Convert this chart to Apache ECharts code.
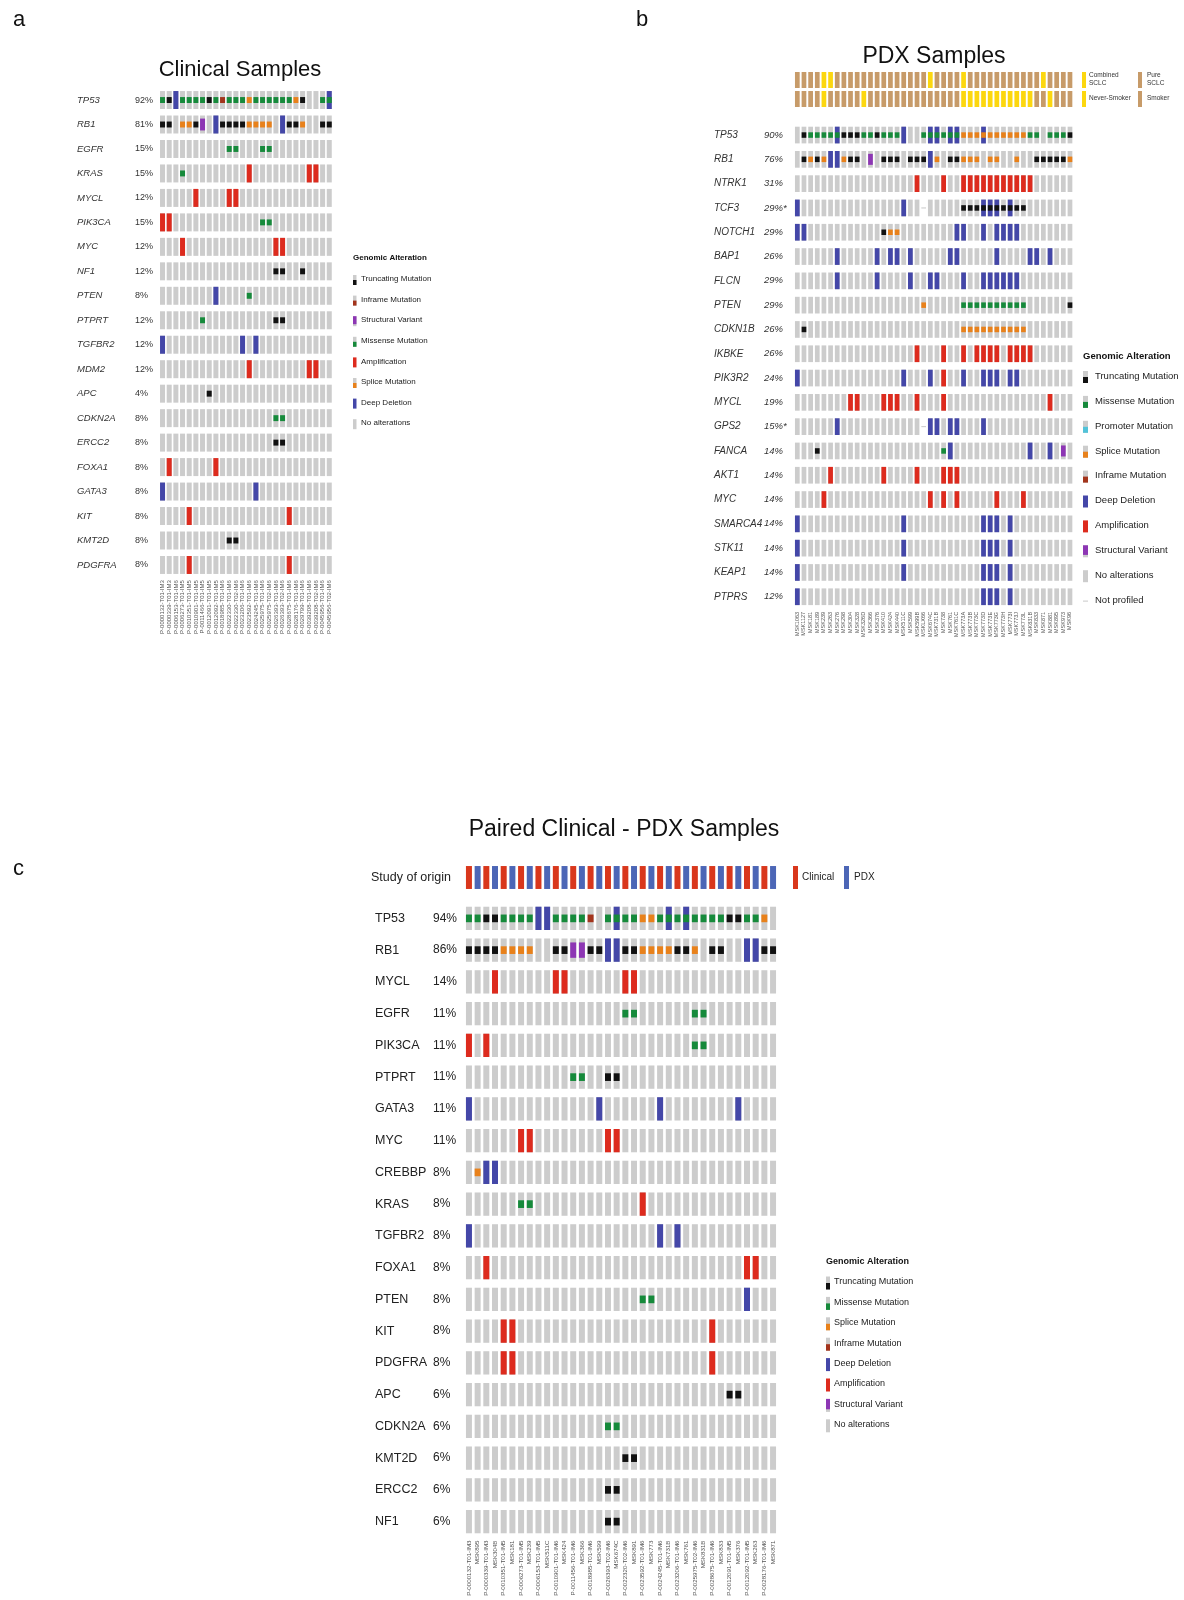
<!DOCTYPE html>
<html>
<head>
<meta charset="utf-8">
<script src="https://cdn.jsdelivr.net/npm/echarts@6/dist/echarts.min.js"></script>
<style>
  html, body { margin: 0; padding: 0; background: #fff; }
  #chart { width: 1184px; height: 1600px; }
</style>
</head>
<body>
<div id="chart"></div>
<script>
// ---- alteration codes ----
// . none, T truncating, M missense, S splice, I inframe, P promoter,
// D deep deletion, A amplification, V structural variant, - not profiled
// x = D + missense, y = D + splice, z = D + truncating
var TYPE_KEYS = ['T', 'M', 'S', 'I', 'P', 'D', 'A', 'V'];
var COMBO = { x: 'DM', y: 'DS', z: 'DT' };

// ---- panel a : clinical samples ----
var clinSamples = ['P-0000132-T01-IM3', 'P-0000339-T01-IM3', 'P-0006153-T01-IM6', 'P-0006273-T01-IM5',
    'P-0010351-T01-IM5', 'P-0010901-T01-IM5', 'P-0011466-T01-IM5', 'P-0012091-T01-IM5', 'P-0012092-T01-IM5',
    'P-0018985-T01-IM6', 'P-0022330-T01-IM6', 'P-0022330-T02-IM6', 'P-0023206-T01-IM6', 'P-0023592-T01-IM6',
    'P-0024245-T01-IM6', 'P-0025975-T01-IM6', 'P-0025975-T02-IM6', 'P-0026393-T01-IM6', 'P-0026393-T02-IM6',
    'P-0028675-T01-IM6', 'P-0028176-T01-IM6', 'P-0029799-T01-IM6', 'P-0039208-T01-IM6', 'P-0039208-T02-IM6',
    'P-0045956-T01-IM6', 'P-0045956-T02-IM6'];
var clinGenes = ['TP53', 'RB1', 'EGFR', 'KRAS', 'MYCL', 'PIK3CA', 'MYC', 'NF1', 'PTEN', 'PTPRT',
    'TGFBR2', 'MDM2', 'APC', 'CDKN2A', 'ERCC2', 'FOXA1', 'GATA3', 'KIT', 'KMT2D', 'PDGFRA'];
var clinPct = ['92%', '81%', '15%', '15%', '12%', '15%', '12%', '12%', '8%', '12%',
    '12%', '12%', '4%', '8%', '8%', '8%', '8%', '8%', '8%', '8%'];
var clinRows = [
    'MTDMM MMTMI MMMSM MMMMM ST..M x',
    'TT.SS TV.DT TTTSS SS.DT TS..T T',
    '..... ..... MM... MM... ..... .',
    '...M. ..... ...A. ..... ..AA. .',
    '..... A.... AA... ..... ..... .',
    'AA... ..... ..... MM... ..... .',
    '...A. ..... ..... ..AA. ..... .',
    '..... ..... ..... ..TT. .T... .',
    '..... ...D. ...M. ..... ..... .',
    '..... .M... ..... ..TT. ..... .',
    'D.... ..... ..D.D ..... ..... .',
    '..... ..... ...A. ..... ..AA. .',
    '..... ..T.. ..... ..... ..... .',
    '..... ..... ..... ..MM. ..... .',
    '..... ..... ..... ..TT. ..... .',
    '.A... ...A. ..... ..... ..... .',
    'D.... ..... ....D ..... ..... .',
    '....A ..... ..... ....A ..... .',
    '..... ..... TT... ..... ..... .',
    '....A ..... ..... ....A ..... .'
];

// ---- panel b : PDX samples ----
var pdxSamples = ['MSK1063', 'MSK1127', 'MSK181', 'MSK189', 'MSK239', 'MSK263', 'MSK276', 'MSK298', 'MSK304',
    'MSK328', 'MSK326D', 'MSK366', 'MSK376', 'MSK410', 'MSK424', 'MSK440', 'MSK511C', 'MSK599', 'MSK599B',
    'MSKLX66', 'MSK674C', 'MSK731B', 'MSK738', 'MSK761', 'MSK761C', 'MSK773A', 'MSK773B', 'MSK773C', 'MSK773D',
    'MSK773E', 'MSK773G', 'MSK773H', 'MSK773I', 'MSK773J', 'MSK773L', 'MSK831B', 'MSK833', 'MSK871', 'MSK881',
    'MSK895', 'MSK973', 'MSK96'];
var pdxGenes = ['TP53', 'RB1', 'NTRK1', 'TCF3', 'NOTCH1', 'BAP1', 'FLCN', 'PTEN', 'CDKN1B', 'IKBKE',
    'PIK3R2', 'MYCL', 'GPS2', 'FANCA', 'AKT1', 'MYC', 'SMARCA4', 'STK11', 'KEAP1', 'PTPRS'];
var pdxPct = ['90%', '76%', '31%', '29%*', '29%', '26%', '29%', '29%', '26%', '26%',
    '24%', '19%', '15%*', '14%', '14%', '14%', '14%', '14%', '14%', '12%'];
var pdxRows = [
    '.TMMM MxTTT MMTMM MD..M xxMxx SSSyS SSSSS MM.MM MT',
    '.TSTS DDSTT .V.TT T.TTT DS.TT SSS.S S..S. .TTTT TS',
    '..... ..... ..... ...A. ..A.. AAAAA AAAAA A.... ..',
    'D.... ..... ..... .D..- ..... TTTzz zTzTT ..... ..',
    'DD... ..... ...TS S.... ....D D..D. DDDD. ..... ..',
    '..... .D... ..D.D D.D.. ...DD ..... D.... DD.D. ..',
    '..... .D... ..D.. ..D.. DD... D..DD DDDD. ..... ..',
    '..... ..... ..... ....S ..... MMMMM MMMMM ..... .T',
    '.T... ..... ..... ..... ..... SSSSS SSSSS ..... ..',
    '..... ..... ..... ...A. ..A.. A.AAA A.AAA A.... ..',
    'D.... ..... ..... .D... D.A.. D..DD D.DD. ..... ..',
    '..... ...AA ...AA A..A. ..A.. ..... ..... ...A. ..',
    '..... .D... ..... ....- DD.DD ...D. ..... ..... ..',
    '...T. ..... ..... ..... ..MD. ..... ..... D..D. V.',
    '..... A.... ...A. ...A. ..AAA ..... ..... ..... ..',
    '....A ..... ..... ..... A.A.A ..... A...A ..... ..',
    'D.... ..... ..... .D... ..... ...DD D.D.. ..... ..',
    'D.... ..... ..... .D... ..... ...DD D.D.. ..... ..',
    'D.... ..... ..... .D... ..... ...DD D.D.. ..... ..',
    'D.... ..... ..... ..... ..... ...DD D.D.. ..... ..'
];
// C combined / P pure SCLC ; N never-smoker / S smoker
var pdxHistology = 'PPPPC CPPPP PPPPP PPPPP CPPPP CPPPP PPPPP PPCPP PP';
var pdxSmoking = 'SSSSN SSSSS NSSSS SSSSS SSSSS NNNNN NNNNN NSSNS SS';

// ---- panel c : paired clinical - PDX ----
var pairSamples = ['P-0000132-T01-IM3', 'MSK895', 'P-0000339-T01-IM3', 'MSK304B', 'P-0010351-T01-IM5', 'MSK181',
    'P-0006273-T01-IM5', 'MSK239', 'P-0006153-T01-IM5', 'MSK511C', 'P-0010901-T01-IM6', 'MSK424',
    'P-0011456-T01-IM6', 'MSK366', 'P-0018985-T01-IM6', 'MSK599', 'P-0026393-T02-IM6', 'MSK674C',
    'P-0022320-T02-IM6', 'MSK891', 'P-0023592-T01-IM6', 'MSK773', 'P-0024245-T01-IM6', 'MSK731B',
    'P-0023206-T01-IM6', 'MSK761', 'P-0025975-T02-IM6', 'MSK831B', 'P-0028675-T01-IM6', 'MSK833',
    'P-0012091-T01-IM5', 'MSK376', 'P-0012092-T01-IM5', 'MSK263', 'P-0028176-T01-IM6', 'MSK871'];
var pairOrigin = 'CPCPC PCPCP CPCPC PCPCP CPCPC PCPCP CPCPC P';
var pairGenes = ['TP53', 'RB1', 'MYCL', 'EGFR', 'PIK3CA', 'PTPRT', 'GATA3', 'MYC', 'CREBBP', 'KRAS',
    'TGFBR2', 'FOXA1', 'PTEN', 'KIT', 'PDGFRA', 'APC', 'CDKN2A', 'KMT2D', 'ERCC2', 'NF1'];
var pairPct = ['94%', '86%', '14%', '11%', '11%', '11%', '11%', '11%', '8%', '8%',
    '8%', '8%', '8%', '8%', '8%', '6%', '6%', '6%', '6%', '6%'];
var pairRows = [
    'MMTTM MMMDD MMMMI .MxMM SSMxM xMMMM TTMMS .',
    'TTTTS SSS.. TTVVT TDDTT SSSST TS.TT ..DDT T',
    '...A. ..... AA... ...AA ..... ..... ..... .',
    '..... ..... ..... ...MM ..... .MM.. ..... .',
    'A.A.. ..... ..... ..... ..... .MM.. ..... .',
    '..... ..... ..MM. .TT.. ..... ..... ..... .',
    'D.... ..... ..... D.... ..D.. ..... .D... .',
    '..... .AA.. ..... .AA.. ..... ..... ..... .',
    '.SDD. ..... ..... ..... ..... ..... ..... .',
    '..... .MM.. ..... ..... A.... ..... ..... .',
    'D.... ..... ..... ..... ..D.D ..... ..... .',
    '..A.. ..... ..... ..... ..... ..... ..AA. .',
    '..... ..... ..... ..... MM... ..... ..D.. .',
    '....A A.... ..... ..... ..... ...A. ..... .',
    '....A A.... ..... ..... ..... ...A. ..... .',
    '..... ..... ..... ..... ..... ..... TT... .',
    '..... ..... ..... .MM.. ..... ..... ..... .',
    '..... ..... ..... ...TT ..... ..... ..... .',
    '..... ..... ..... .TT.. ..... ..... ..... .',
    '..... ..... ..... .TT.. ..... ..... ..... .'
];

// ---- legends ----
var legendA = [['Truncating Mutation', 'T'], ['Inframe Mutation', 'I'], ['Structural Variant', 'V'],
    ['Missense Mutation', 'M'], ['Amplification', 'A'], ['Splice Mutation', 'S'], ['Deep Deletion', 'D'],
    ['No alterations', '.']];
var legendB = [['Truncating Mutation', 'T'], ['Missense Mutation', 'M'], ['Promoter Mutation', 'P'],
    ['Splice Mutation', 'S'], ['Inframe Mutation', 'I'], ['Deep Deletion', 'D'], ['Amplification', 'A'],
    ['Structural Variant', 'V'], ['No alterations', '.'], ['Not profiled', '-']];
var legendC = [['Truncating Mutation', 'T'], ['Missense Mutation', 'M'], ['Splice Mutation', 'S'],
    ['Inframe Mutation', 'I'], ['Deep Deletion', 'D'], ['Amplification', 'A'], ['Structural Variant', 'V'],
    ['No alterations', '.']];

// ---- styles ----
var FONT = 'Liberation Sans, Arial, Helvetica, sans-serif';
var GRAY = '#cccccc';
var TYPE_COLOR = { T: '#111111', M: '#168a3b', S: '#e8811b', I: '#a3341c', P: '#52c3d9',
    D: '#4447a8', A: '#dd2b1e', V: '#8d36b4' };
var TYPE_HEIGHT = { T: 0.33, M: 0.33, S: 0.33, I: 0.33, P: 0.33, D: 1, A: 1, V: 0.66 };
var ANNOT_COLOR = { C: '#fcd70f', P: '#c79b69', N: '#fcd70f', S: '#c79b69' };
var ORIGIN_COLOR = { C: '#d9371c', P: '#4c66b6' };

function clean(s) { return s.replace(/\s+/g, '').split(''); }

function buildCells(rows) {
    var bg = [], alt = [];
    rows.forEach(function (s, g) {
        clean(s).forEach(function (ch, c) {
            if (ch === '-') { bg.push([c, g, 1]); return; }
            bg.push([c, g, 0]);
            if (ch === '.') return;
            (COMBO[ch] || ch).split('').forEach(function (p) {
                alt.push([c, g, TYPE_KEYS.indexOf(p)]);
            });
        });
    });
    alt.sort(function (a, b) {
        return TYPE_HEIGHT[TYPE_KEYS[b[2]]] - TYPE_HEIGHT[TYPE_KEYS[a[2]]];
    });
    return { bg: bg, alt: alt };
}

function buildAnnot(strs) {
    var out = [];
    strs.forEach(function (s, r) {
        clean(s).forEach(function (ch, c) { out.push([c, r, ch.charCodeAt(0)]); });
    });
    return out;
}

function bgRender(cw, ch) {
    return function (params, api) {
        var p = api.coord([api.value(0), api.value(1)]);
        var sz = api.size([1, 1]);
        var w = sz[0] * cw, h = sz[1] * ch;
        if (api.value(2) === 1) {
            return { type: 'rect', shape: { x: p[0] - w / 2, y: p[1] - 0.5, width: w, height: 1 },
                style: { fill: '#c8c8c8' } };
        }
        return { type: 'rect', shape: { x: p[0] - w / 2, y: p[1] - h / 2, width: w, height: h },
            style: { fill: GRAY } };
    };
}

function altRender(cw, ch) {
    return function (params, api) {
        var p = api.coord([api.value(0), api.value(1)]);
        var sz = api.size([1, 1]);
        var key = TYPE_KEYS[api.value(2)];
        var w = sz[0] * cw, h = sz[1] * ch * TYPE_HEIGHT[key];
        return { type: 'rect', shape: { x: p[0] - w / 2, y: p[1] - h / 2, width: w, height: h },
            style: { fill: TYPE_COLOR[key] } };
    };
}

function annotRender(cw, ch, palette) {
    return function (params, api) {
        var p = api.coord([api.value(0), api.value(1)]);
        var sz = api.size([1, 1]);
        var w = sz[0] * cw, h = sz[1] * ch;
        var key = String.fromCharCode(api.value(2));
        return { type: 'rect', shape: { x: p[0] - w / 2, y: p[1] - h / 2, width: w, height: h },
            style: { fill: palette[key] } };
    };
}

function customSeries(name, gi, data, render, z) {
    return { type: 'custom', name: name, coordinateSystem: 'cartesian2d', xAxisIndex: gi, yAxisIndex: gi,
        encode: { x: 0, y: 1 }, data: data, renderItem: render, silent: true, z: z, animation: false };
}

function sampleAxis(gi, samples, show, fontSize) {
    return { type: 'category', gridIndex: gi, data: samples, position: 'bottom',
        axisLine: { show: false }, axisTick: { show: false }, splitLine: { show: false },
        axisLabel: { show: show, interval: 0, rotate: 90, fontSize: fontSize, color: '#555',
            fontFamily: FONT, margin: 3 } };
}

function geneAxis(gi, genes, pct, margin, gw, pw, fs, italicPct, color) {
    return { type: 'category', gridIndex: gi, data: genes, inverse: true,
        axisLine: { show: false }, axisTick: { show: false }, splitLine: { show: false },
        axisLabel: { interval: 0, align: 'left', margin: margin,
            formatter: function (v, i) { return '{g|' + v + '}{p|' + pct[i] + '}'; },
            rich: {
                g: { width: gw, fontSize: fs, fontStyle: italicPct !== null ? 'italic' : 'normal',
                    color: color, fontFamily: FONT },
                p: { width: pw, fontSize: fs - 0.5, fontStyle: italicPct ? 'italic' : 'normal',
                    color: color, fontFamily: FONT }
            } } };
}

// legend graphic builder
function legendGraphic(x, yHead, y0, step, items, sw, sh, fs, textX) {
    var els = [{ type: 'text', left: x, top: yHead - fs / 2 - 1,
        style: { text: 'Genomic Alteration', font: 'bold ' + fs + 'px ' + FONT, fill: '#111' } }];
    items.forEach(function (it, i) {
        var yc = y0 + step * i;
        var key = it[1];
        if (key === '-') {
            els.push({ type: 'rect', shape: { x: x, y: yc - 0.5, width: sw, height: 1 }, style: { fill: '#c8c8c8' } });
        } else if (key === '.') {
            els.push({ type: 'rect', shape: { x: x, y: yc - sh / 2, width: sw, height: sh }, style: { fill: GRAY } });
        } else if (TYPE_HEIGHT[key] === 1) {
            els.push({ type: 'rect', shape: { x: x, y: yc - sh / 2, width: sw, height: sh }, style: { fill: TYPE_COLOR[key] } });
        } else if (key === 'V') {
            els.push({ type: 'rect', shape: { x: x, y: yc - sh / 2, width: sw, height: sh }, style: { fill: GRAY } });
            els.push({ type: 'rect', shape: { x: x, y: yc - sh / 2, width: sw, height: sh * 0.8 }, style: { fill: TYPE_COLOR[key] } });
        } else {
            els.push({ type: 'rect', shape: { x: x, y: yc - sh / 2, width: sw, height: sh }, style: { fill: GRAY } });
            els.push({ type: 'rect', shape: { x: x, y: yc, width: sw, height: sh / 2 }, style: { fill: TYPE_COLOR[key] } });
        }
        els.push({ type: 'text', left: textX, top: yc - fs / 2 - 1,
            style: { text: it[0], font: fs + 'px ' + FONT, fill: '#222' } });
    });
    return els;
}

var cellsA = buildCells(clinRows);
var cellsB = buildCells(pdxRows);
var cellsC = buildCells(pairRows);
var annotB = buildAnnot([pdxHistology, pdxSmoking]);
var annotC = buildAnnot([pairOrigin]);

var chart = echarts.init(document.getElementById('chart'));

var graphics = [
    { type: 'text', left: 13, top: 9, style: { text: 'a', font: '22px ' + FONT, fill: '#111' } },
    { type: 'text', left: 636, top: 9, style: { text: 'b', font: '22px ' + FONT, fill: '#111' } },
    { type: 'text', left: 13, top: 858, style: { text: 'c', font: '22px ' + FONT, fill: '#111' } },
    { type: 'text', x: 240, y: 70, style: { text: 'Clinical Samples', font: '22px ' + FONT, fill: '#111',
        textAlign: 'center', textVerticalAlign: 'middle' } },
    { type: 'text', x: 934, y: 57, style: { text: 'PDX Samples', font: '23px ' + FONT, fill: '#111',
        textAlign: 'center', textVerticalAlign: 'middle' } },
    { type: 'text', x: 624, y: 830, style: { text: 'Paired Clinical - PDX Samples', font: '23px ' + FONT, fill: '#111',
        textAlign: 'center', textVerticalAlign: 'middle' } },
    // annotation legend b
    { type: 'rect', shape: { x: 1082, y: 72, width: 4, height: 16 }, style: { fill: ANNOT_COLOR.C } },
    { type: 'text', left: 1089, top: 71, style: { text: 'Combined\nSCLC', font: '6.5px ' + FONT, fill: '#333', lineHeight: 8 } },
    { type: 'rect', shape: { x: 1138, y: 72, width: 4, height: 16 }, style: { fill: ANNOT_COLOR.P } },
    { type: 'text', left: 1147, top: 71, style: { text: 'Pure\nSCLC', font: '6.5px ' + FONT, fill: '#333', lineHeight: 8 } },
    { type: 'rect', shape: { x: 1082, y: 91, width: 4, height: 16 }, style: { fill: ANNOT_COLOR.N } },
    { type: 'text', left: 1089, top: 95, style: { text: 'Never-Smoker', font: '6.5px ' + FONT, fill: '#333' } },
    { type: 'rect', shape: { x: 1138, y: 91, width: 4, height: 16 }, style: { fill: ANNOT_COLOR.S } },
    { type: 'text', left: 1147, top: 95, style: { text: 'Smoker', font: '6.5px ' + FONT, fill: '#333' } },
    // origin legend c
    { type: 'rect', shape: { x: 793, y: 866, width: 5, height: 23 }, style: { fill: ORIGIN_COLOR.C } },
    { type: 'text', left: 802, top: 872, style: { text: 'Clinical', font: '10px ' + FONT, fill: '#222' } },
    { type: 'rect', shape: { x: 844, y: 866, width: 5, height: 23 }, style: { fill: ORIGIN_COLOR.P } },
    { type: 'text', left: 854, top: 872, style: { text: 'PDX', font: '10px ' + FONT, fill: '#222' } }
].concat(
    legendGraphic(353, 259, 280, 20.6, legendA, 3.5, 10, 8, 361),
    legendGraphic(1083, 357, 377, 24.9, legendB, 5, 12, 9.5, 1095),
    legendGraphic(826, 1263, 1283, 20.4, legendC, 4, 13, 9, 834)
);

var option = {
    backgroundColor: '#ffffff',
    animation: false,
    graphic: graphics,
    grid: [
        { left: 159.2, top: 87.8, width: 173.4, height: 489.4 },   // a
        { left: 794.0, top: 70.5, width: 279.3, height: 38 },      // b annotation
        { left: 794.0, top: 122.9, width: 279.3, height: 486 },    // b
        { left: 464.6, top: 862, width: 312.8, height: 31 },       // c origin
        { left: 464.6, top: 902.5, width: 312.8, height: 635 }     // c
    ],
    xAxis: [
        sampleAxis(0, clinSamples, true, 6),
        sampleAxis(1, pdxSamples, false, 5.5),
        sampleAxis(2, pdxSamples, true, 5.5),
        sampleAxis(3, pairSamples, false, 6),
        sampleAxis(4, pairSamples, true, 6.2)
    ],
    yAxis: [
        geneAxis(0, clinGenes, clinPct, 82.2, 58, 24, 9.5, false, '#333'),
        { type: 'category', gridIndex: 1, data: ['Histology', 'Smoking'], inverse: true, show: false },
        geneAxis(2, pdxGenes, pdxPct, 80, 50, 30, 10, true, '#333'),
        { type: 'category', gridIndex: 3, data: ['Study of origin'], inverse: true,
            axisLine: { show: false }, axisTick: { show: false },
            axisLabel: { align: 'left', margin: 93.6, fontSize: 12.5, color: '#222', fontFamily: FONT } },
        geneAxis(4, pairGenes, pairPct, 89.6, 58, 32, 12.5, null, '#222')
    ],
    series: [
        customSeries('a-bg', 0, cellsA.bg, bgRender(0.75, 0.735), 1),
        customSeries('a-alt', 0, cellsA.alt, altRender(0.75, 0.735), 2),
        customSeries('b-annot', 1, annotB, annotRender(0.71, 0.84, ANNOT_COLOR), 1),
        customSeries('b-bg', 2, cellsB.bg, bgRender(0.71, 0.687), 1),
        customSeries('b-alt', 2, cellsB.alt, altRender(0.71, 0.687), 2),
        customSeries('c-origin', 3, annotC, annotRender(0.69, 0.74, ORIGIN_COLOR), 1),
        customSeries('c-bg', 4, cellsC.bg, bgRender(0.69, 0.734), 1),
        customSeries('c-alt', 4, cellsC.alt, altRender(0.69, 0.734), 2)
    ]
};
chart.setOption(option);
</script>
</body>
</html>
